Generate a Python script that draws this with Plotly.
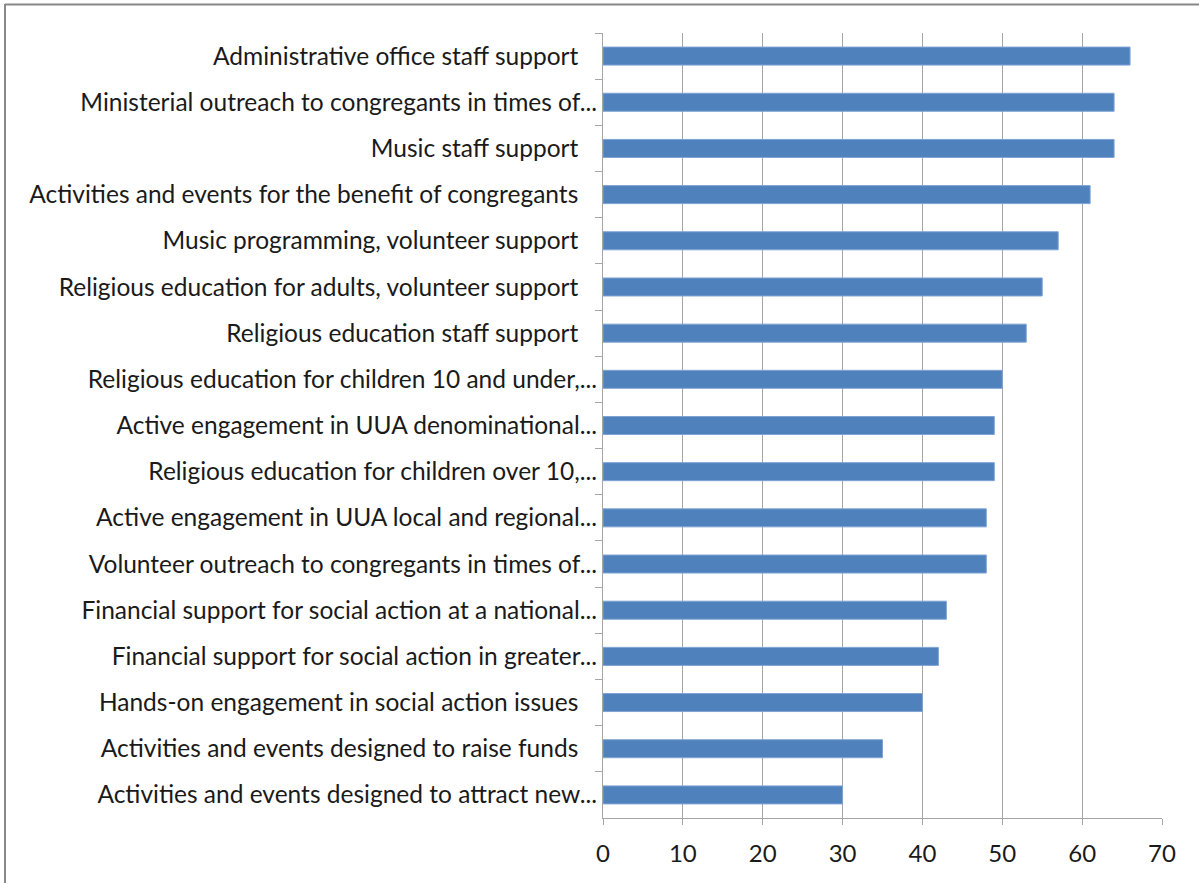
import plotly.graph_objects as go

categories = [
    "Administrative office staff support",
    "Ministerial outreach to congregants in times of...",
    "Music staff support",
    "Activities and events for the benefit of congregants",
    "Music programming, volunteer support",
    "Religious education for adults, volunteer support",
    "Religious education staff support",
    "Religious education for children 10 and under,...",
    "Active engagement in UUA denominational...",
    "Religious education for children over 10,...",
    "Active engagement in UUA local and regional...",
    "Volunteer outreach to congregants in times of...",
    "Financial support for social action at a national...",
    "Financial support for social action in greater...",
    "Hands-on engagement in social action issues",
    "Activities and events designed to raise funds",
    "Activities and events designed to attract new...",
]
values = [66, 64, 64, 61, 57, 55, 53, 50, 49, 49, 48, 48, 43, 42, 40, 35, 30]
x_ticks = [0, 10, 20, 30, 40, 50, 60, 70]

labels = [c if c.endswith("...") else c + "\u00a0\u00a0\u00a0" for c in categories]

W, H = 1199, 883
L, R, T, B = 603, 1162, 33, 818

fig = go.Figure(go.Bar(
    y=labels, x=values, orientation="h",
    marker=dict(color="#4F81BD", line=dict(color="#7FA3D3", width=1)),
))

fig.update_layout(
    width=W, height=H,
    margin=dict(l=L, r=W - R, t=T, b=H - B, pad=0, autoexpand=False),
    paper_bgcolor="white", plot_bgcolor="white",
    bargap=0.61,
    showlegend=False,
    font=dict(family="Lato, Noto Sans, sans-serif", size=24, color="#1a1a1a"),
)
fig.update_xaxes(
    range=[0, 70], tickvals=x_ticks, ticktext=[str(v) for v in x_ticks],
    showgrid=True, gridcolor="#A6A6A6", gridwidth=1,
    showline=True, linecolor="#A6A6A6", linewidth=1,
    ticks="outside", ticklen=6, tickcolor="#A6A6A6",
    tickfont=dict(size=24), zeroline=False, automargin=False,
    ticklabelstandoff=8,
)
fig.update_yaxes(
    autorange="reversed", showgrid=False,
    showline=True, linecolor="#A6A6A6", linewidth=1,
    ticks="outside", ticklen=7, tickcolor="#A6A6A6", tickson="boundaries",
    tickfont=dict(size=24.5), ticklabelstandoff=0, automargin=False,
)

pw, ph = R - L, B - T
def px(x):
    return (x - L) / pw
def py(y):
    return (B - y) / ph

fig.add_shape(type="line", xref="paper", yref="paper",
              x0=px(5), x1=px(1199), y0=py(4.5), y1=py(4.5),
              line=dict(color="#888888", width=2))
fig.add_shape(type="line", xref="paper", yref="paper",
              x0=px(5), x1=px(5), y0=py(4), y1=py(883),
              line=dict(color="#888888", width=2))

fig.write_html("out.html", config={"displayModeBar": False},
               post_script="document.body.style.margin='0';document.body.style.overflow='hidden';")
